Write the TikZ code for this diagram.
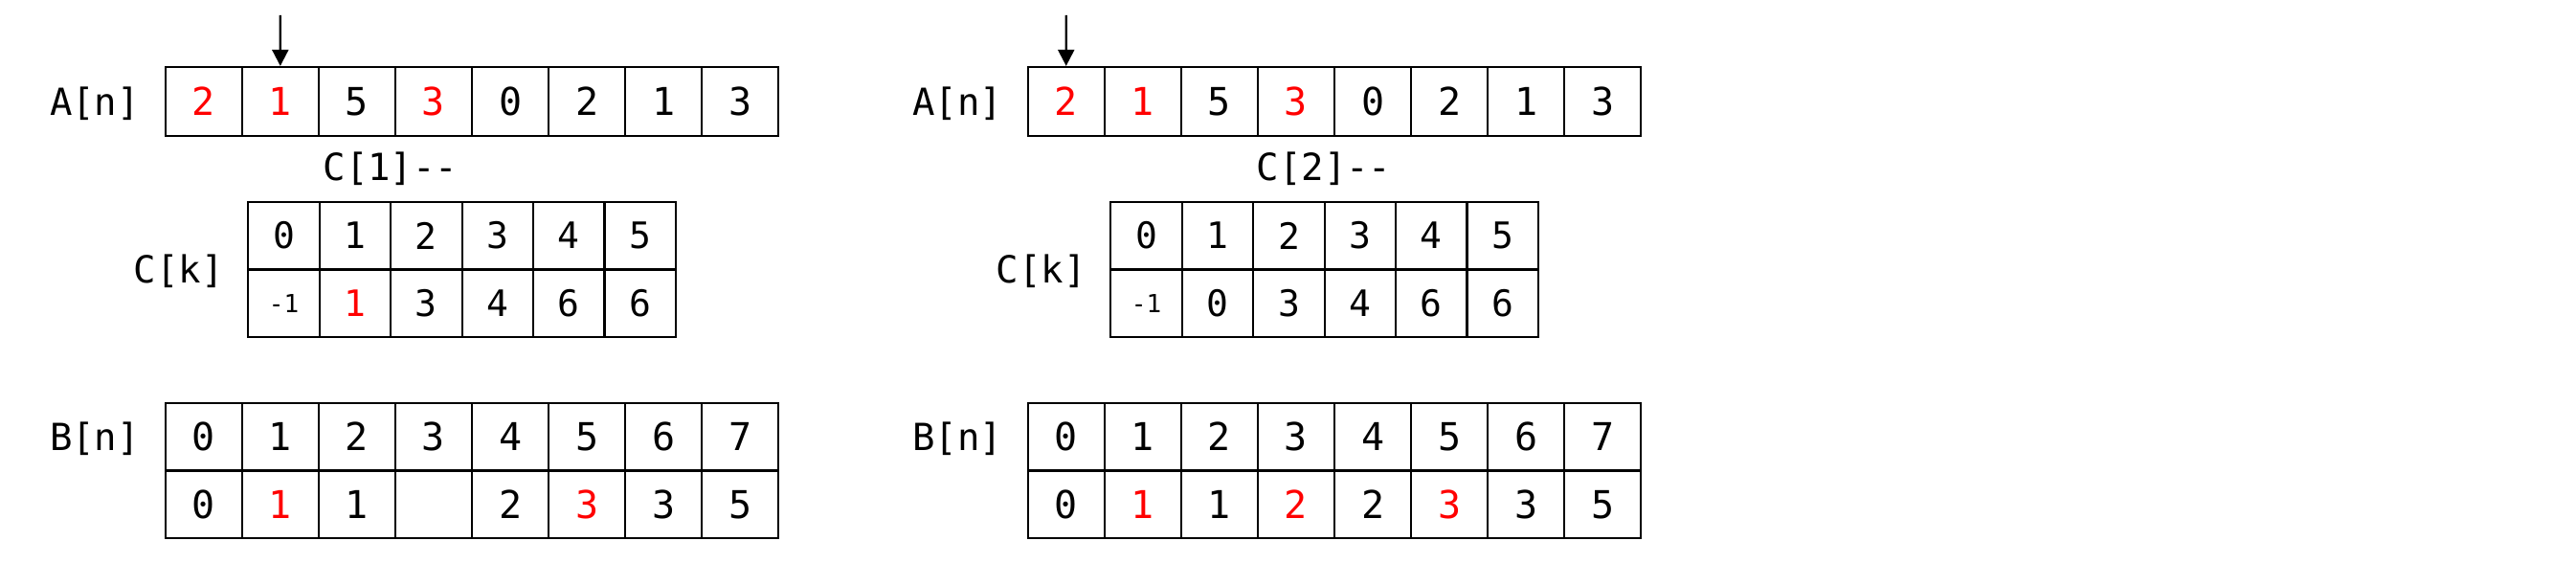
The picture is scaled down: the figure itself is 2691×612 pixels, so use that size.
\documentclass[tikz,border=0pt]{standalone}
\usepackage{fontspec}
\usetikzlibrary{arrows.meta}
\newfontfamily\mono{DejaVu Sans Mono}
\definecolor{hired}{RGB}{255,0,0}
\begin{document}
\begin{tikzpicture}[x=1pt,y=-1pt,
  cell/.style={draw,line width=2.2pt,inner sep=0pt,font=\mono\fontsize{40}{48}\selectfont},
  acell/.style={cell,minimum width=80.08pt,minimum height=71.7pt},
  ccell/.style={cell,minimum width=74.45pt,minimum height=70.8pt,font=\mono\fontsize{38}{46}\selectfont},
  bcell/.style={cell,minimum width=80.08pt,minimum height=70.8pt},
  smallcell/.style={ccell,font=\mono\fontsize{26}{30}\selectfont},
  lbl/.style={inner sep=0pt,font=\mono\fontsize{39}{47}\selectfont},
  ptr/.style={line width=2.2pt,-{Triangle[width=17pt,length=17pt]}}]
\useasboundingbox (0,0) rectangle (2691,612);

% ---------------- left panel ----------------
\node[lbl] (LAl) at (99,108) {A[n]};
\foreach \v/\c [count=\i from 0] in {2/hired,1/hired,5/black,3/hired,0/black,2/black,1/black,3/black}
  \node[acell,text=\c] (LA\i) at ({172.7+80.08*(\i+0.5)},105.85) {\v};
\coordinate (LP) at (292.8,16);
\draw[ptr] (LP) -- (LA1.north);
\node[lbl] (LCop) at (408,176) {C[1]--};
\node[lbl] (LCl) at (186.7,283) {C[k]};
\foreach \v [count=\i from 0] in {0,1,2,3,4,5}
  \node[ccell] (LCt\i) at ({259.3+74.45*(\i+0.5)},246.1) {\v};
\node[smallcell] (LCb0) at ({259.3+74.45*0.5},316.9) {-1};
\foreach \v/\c [count=\i from 1] in {1/hired,3/black,4/black,6/black,6/black}
  \node[ccell,text=\c] (LCb\i) at ({259.3+74.45*(\i+0.5)},316.9) {\v};
\node[lbl] (LBl) at (99,458) {B[n]};
\foreach \v [count=\i from 0] in {0,1,2,3,4,5,6,7}
  \node[bcell] (LBt\i) at ({172.7+80.08*(\i+0.5)},456.1) {\v};
\foreach \v/\c [count=\i from 0] in {0/black,1/hired,1/black,{}/black,2/black,3/hired,3/black,5/black}
  \node[bcell,text=\c] (LBb\i) at ({172.7+80.08*(\i+0.5)},526.9) {\v};

% ---------------- right panel ----------------
\node[lbl] (RAl) at (1000,108) {A[n]};
\foreach \v/\c [count=\i from 0] in {2/hired,1/hired,5/black,3/hired,0/black,2/black,1/black,3/black}
  \node[acell,text=\c] (RA\i) at ({1073.7+80.08*(\i+0.5)},105.85) {\v};
\coordinate (RP) at (1113.7,16);
\draw[ptr] (RP) -- (RA0.north);
\node[lbl] (RCop) at (1383,176) {C[2]--};
\node[lbl] (RCl) at (1087.7,283) {C[k]};
\foreach \v [count=\i from 0] in {0,1,2,3,4,5}
  \node[ccell] (RCt\i) at ({1160.3+74.45*(\i+0.5)},246.1) {\v};
\node[smallcell] (RCb0) at ({1160.3+74.45*0.5},316.9) {-1};
\foreach \v [count=\i from 1] in {0,3,4,6,6}
  \node[ccell] (RCb\i) at ({1160.3+74.45*(\i+0.5)},316.9) {\v};
\node[lbl] (RBl) at (1000,458) {B[n]};
\foreach \v [count=\i from 0] in {0,1,2,3,4,5,6,7}
  \node[bcell] (RBt\i) at ({1073.7+80.08*(\i+0.5)},456.1) {\v};
\foreach \v/\c [count=\i from 0] in {0/black,1/hired,1/black,2/hired,2/black,3/hired,3/black,5/black}
  \node[bcell,text=\c] (RBb\i) at ({1073.7+80.08*(\i+0.5)},526.9) {\v};
\end{tikzpicture}
\end{document}
